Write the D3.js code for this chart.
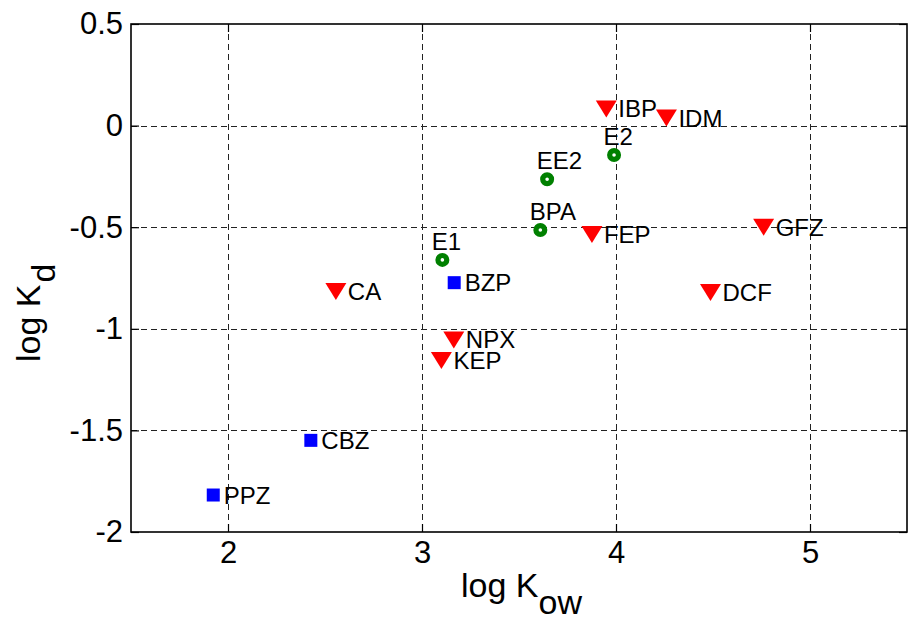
<!DOCTYPE html>
<html>
<head>
<meta charset="utf-8">
<script src="https://cdn.jsdelivr.net/npm/d3@7"></script>
<style>
  html, body { margin: 0; padding: 0; background: #fff; }
  svg { display: block; font-family: Arial, "Liberation Sans", Helvetica, sans-serif; }
</style>
</head>
<body>
<svg id="chart" width="913" height="623"></svg>
<script>
// Compounds, their log Kow and log Kd, and the marker group of each
const compounds = ["IBP", "IDM", "E2", "EE2", "BPA", "FEP", "E1", "BZP", "CA", "NPX", "KEP", "CBZ", "PPZ", "GFZ", "DCF"];
const logKow    = [3.95, 4.26, 3.99, 3.645, 3.61, 3.876, 3.105, 3.166, 2.556, 3.164, 3.10, 2.427, 1.924, 4.761, 4.487];
const logKd     = [0.082, 0.037, -0.145, -0.264, -0.514, -0.536, -0.661, -0.773, -0.817, -1.055, -1.156, -1.549, -1.818, -0.50, -0.821];
const groups    = ["acid", "acid", "steroid", "steroid", "steroid", "acid", "steroid", "neutral", "acid", "acid", "acid", "neutral", "neutral", "acid", "acid"];

const xTicks = [2, 3, 4, 5];
const yTicks = [-2, -1.5, -1, -0.5, 0, 0.5];
const xDomain = [1.5, 5.5];
const yDomain = [-2, 0.5];

const svg = d3.select("#chart");
const plotL = 131, plotR = 907, plotT = 24, plotB = 532;

const x = d3.scaleLinear().domain(xDomain).range([plotL, plotR]);
const y = d3.scaleLinear().domain(yDomain).range([plotB, plotT]);

// dashed grid
const grid = svg.append("g").attr("stroke", "#222").attr("stroke-width", 1)
  .attr("stroke-dasharray", "6,4").attr("fill", "none");
grid.selectAll("line.gx").data(xTicks).join("line")
  .attr("x1", d => Math.round(x(d)) + 0.5).attr("x2", d => Math.round(x(d)) + 0.5)
  .attr("y1", plotT).attr("y2", plotB);
grid.selectAll("line.gy").data(yTicks.filter(d => d > yDomain[0] && d < yDomain[1])).join("line")
  .attr("y1", d => Math.round(y(d)) + 0.5).attr("y2", d => Math.round(y(d)) + 0.5)
  .attr("x1", plotL).attr("x2", plotR);

// axes (ticks point inward, box drawn on all four sides)
const tickLen = 8;
const fmt = d => (d < 0 ? "-" : "") + d3.format("")(Math.abs(d));

const xAxis = svg.append("g").attr("transform", `translate(0,${plotB})`)
  .call(d3.axisBottom(x).tickValues(xTicks).tickSize(-tickLen).tickPadding(9).tickFormat(fmt));
const xAxisTop = svg.append("g").attr("transform", `translate(0,${plotT})`)
  .call(d3.axisTop(x).tickValues(xTicks).tickSize(-tickLen).tickFormat(""));
const yAxis = svg.append("g").attr("transform", `translate(${plotL},0)`)
  .call(d3.axisLeft(y).tickValues(yTicks).tickSize(-tickLen).tickPadding(8).tickFormat(fmt));
const yAxisRight = svg.append("g").attr("transform", `translate(${plotR},0)`)
  .call(d3.axisRight(y).tickValues(yTicks).tickSize(-tickLen).tickFormat(""));

[xAxis, xAxisTop, yAxis, yAxisRight].forEach(g => {
  g.select(".domain").remove();
  g.selectAll(".tick line").attr("stroke", "#000").attr("stroke-width", 1.2);
  g.selectAll("text").attr("fill", "#000").attr("font-size", 31)
    .attr("font-family", "Arial, 'Liberation Sans', sans-serif");
});

svg.append("rect").attr("x", plotL).attr("y", plotT)
  .attr("width", plotR - plotL).attr("height", plotB - plotT)
  .attr("fill", "none").attr("stroke", "#000").attr("stroke-width", 1.6);

// markers
const tri = "M-10.5,-8.5L10.5,-8.5L0,8.5Z";
const pts = compounds.map((c, i) => ({ name: c, kow: logKow[i], kd: logKd[i], group: groups[i] }));
const marks = svg.append("g");

marks.selectAll("path.acid").data(pts.filter(d => d.group === "acid")).join("path")
  .attr("d", tri).attr("fill", "#ff0000")
  .attr("transform", d => `translate(${x(d.kow)},${y(d.kd)})`);

marks.selectAll("rect.neutral").data(pts.filter(d => d.group === "neutral")).join("rect")
  .attr("x", d => x(d.kow) - 6.5).attr("y", d => y(d.kd) - 6.5)
  .attr("width", 13).attr("height", 13).attr("fill", "#0000ff");

marks.selectAll("circle.steroid").data(pts.filter(d => d.group === "steroid")).join("circle")
  .attr("cx", d => x(d.kow)).attr("cy", d => y(d.kd)).attr("r", 4.4)
  .attr("fill", "#fff").attr("stroke", "#008000").attr("stroke-width", 5.2);

// point labels
const labels = svg.append("g").attr("font-size", 24).attr("fill", "#000");
labels.selectAll("text").data(pts).join("text")
  .attr("x", d => d.group === "acid" ? x(d.kow) + 12 : d.group === "neutral" ? x(d.kow) + 10.5 : x(d.kow) - 10.5)
  .attr("y", d => d.group === "steroid" ? y(d.kd) - 10 : y(d.kd) + 8.5)
  .text(d => d.name);

// axis titles
const xt = svg.append("text").attr("x", 461).attr("y", 597)
  .attr("text-anchor", "start").attr("font-size", 34).attr("fill", "#000");
xt.append("tspan").text("log K");
xt.append("tspan").attr("dy", 17).text("ow");

const yt = svg.append("text").attr("transform", "translate(40,362) rotate(-90)")
  .attr("text-anchor", "start").attr("font-size", 34).attr("fill", "#000");
yt.append("tspan").text("log K");
yt.append("tspan").attr("dx", 2).attr("dy", 15).text("d");
</script>
</body>
</html>
